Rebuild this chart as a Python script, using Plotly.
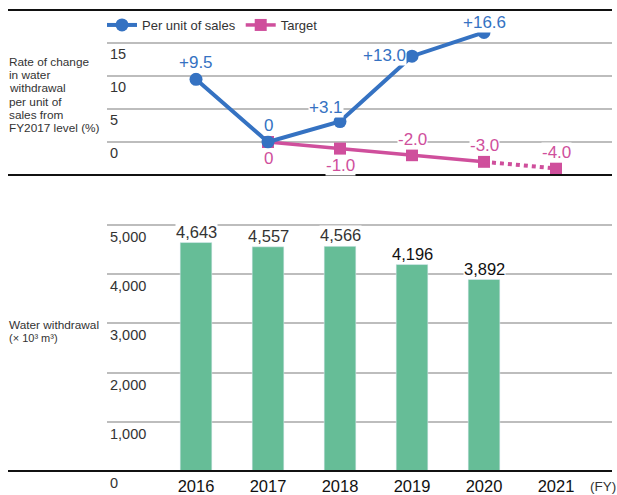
import plotly.graph_objects as go

years = [2016, 2017, 2018, 2019, 2020, 2021]
rate_years = [2016, 2017, 2018, 2019, 2020]
rate_values = [9.5, 0.0, 3.1, 13.0, 16.6]
rate_labels = ["+9.5", "0", "+3.1", "+13.0", "+16.6"]
target_years = [2017, 2018, 2019, 2020, 2021]
target_values = [0.0, -1.0, -2.0, -3.0, -4.0]
target_labels = ["0", "-1.0", "-2.0", "-3.0", "-4.0"]
bar_years = [2016, 2017, 2018, 2019, 2020]
bar_values = [4643, 4557, 4566, 4196, 3892]
bar_labels = ["4,643", "4,557", "4,566", "4,196", "3,892"]
rate_ticks = [0, 5, 10, 15]
bar_ticks = [0, 1000, 2000, 3000, 4000, 5000]
bar_tick_text = ["0", "1,000", "2,000", "3,000", "4,000", "5,000"]
rate_title = ["Rate of change", "in water", "withdrawal", "per unit of",
              "sales from", "FY2017 level (%)"]
bar_title = ["Water withdrawal", "(× 10³ m³)"]

BLUE = "#3572c2"
PINK = "#cf4f9c"
GREEN = "#66bd97"
GRID = "#bdbdbd"
TXT = "#333333"
FONT = "Liberation Sans, Arial, sans-serif"

W, H = 617, 495
def px(x):
    return x / W
def py(y):
    return 1 - y / H

fig = go.Figure()

fig.add_trace(go.Bar(x=bar_years, y=bar_values, marker_color=GREEN, width=0.44,
                     xaxis="x", yaxis="y", showlegend=False, hoverinfo="x+y"))

fig.add_trace(go.Scatter(x=target_years[:4], y=target_values[:4], mode="lines+markers",
                         name="Target", line=dict(color=PINK, width=3.5),
                         marker=dict(symbol="square", size=12, color=PINK),
                         xaxis="x2", yaxis="y2", legendrank=2))
fig.add_trace(go.Scatter(x=target_years[3:], y=target_values[3:], mode="lines",
                         line=dict(color=PINK, width=4, dash="dot"),
                         xaxis="x2", yaxis="y2", showlegend=False))
fig.add_trace(go.Scatter(x=target_years[4:], y=target_values[4:], mode="markers",
                         marker=dict(symbol="square", size=12, color=PINK),
                         xaxis="x2", yaxis="y2", showlegend=False))
fig.add_trace(go.Scatter(x=rate_years, y=rate_values, mode="lines+markers",
                         name="Per unit of sales", line=dict(color=BLUE, width=4),
                         marker=dict(symbol="circle", size=13, color=BLUE),
                         xaxis="x2", yaxis="y2", legendrank=1))

ann = []
blue_off = [(0, 17), (0, 17), (-14, 14), (-28, 1), (0, 10)]
for x, y, t, (dx, dy) in zip(rate_years, rate_values, rate_labels, blue_off):
    ann.append(dict(x=x, y=y, xref="x2", yref="y2", text=t, showarrow=False,
                    xshift=dx, yshift=dy, bgcolor="white", borderpad=0,
                    font=dict(size=17, color=BLUE, family=FONT)))
pink_off = [(0, -16), (0, -17), (0, 16), (0, 16), (0, 16)]
for x, y, t, (dx, dy) in zip(target_years, target_values, target_labels, pink_off):
    ann.append(dict(x=x, y=y, xref="x2", yref="y2", text=t, showarrow=False,
                    xshift=dx, yshift=dy, bgcolor="white", borderpad=0,
                    font=dict(size=17, color=PINK, family=FONT)))
bar_colors = [TXT, TXT, TXT, "#111111", "#111111"]
for x, y, t, c in zip(bar_years, bar_values, bar_labels, bar_colors):
    ann.append(dict(x=x, y=y, xref="x", yref="y", text=t, showarrow=False,
                    yshift=11, bgcolor="white", borderpad=0,
                    font=dict(size=16.5, color=c, family=FONT)))

for i, line in enumerate(rate_title):
    ann.append(dict(x=px(7), y=py(62 + 13.2 * i), xref="paper", yref="paper",
                    xanchor="left", yanchor="middle", showarrow=False, text=line,
                    font=dict(size=11.8, color=TXT, family=FONT)))
for i, line in enumerate(bar_title):
    ann.append(dict(x=px(7), y=py(325 + 13 * i), xref="paper", yref="paper",
                    xanchor="left", yanchor="middle", showarrow=False, text=line,
                    font=dict(size=11.8 if i == 0 else 11, color=TXT, family=FONT)))
ann.append(dict(x=px(588), y=py(486), xref="paper", yref="paper", xanchor="left", yanchor="middle",
                showarrow=False, text="(FY)",
                font=dict(size=13.5, color=TXT, family=FONT)))

shapes = []
for yy in (10, 175, 471):
    shapes.append(dict(type="line", xref="paper", yref="paper", x0=px(8), x1=px(612),
                       y0=py(yy), y1=py(yy), line=dict(color="#111111", width=2)))

xr = [2016 - 89 / 72, 2016 + 416 / 72]
xdom = [px(107), px(612)]
bar_top = 5500
bar_bot = -450
k = 246 / 5000
fig.update_layout(
    width=W, height=H, margin=dict(l=0, r=0, t=0, b=0, autoexpand=False),
    paper_bgcolor="white", plot_bgcolor="white",
    font=dict(family=FONT, color=TXT),
    showlegend=True,
    legend=dict(orientation="h", x=px(102), y=py(25), xanchor="left", yanchor="middle",
                font=dict(size=13, color=TXT, family=FONT), bgcolor="rgba(0,0,0,0)",
                itemwidth=30, tracegroupgap=0),
    annotations=ann, shapes=shapes,
    xaxis=dict(domain=xdom, range=xr, tickvals=years, ticktext=[str(y) for y in years],
               showgrid=False, zeroline=False, showline=False, ticks="",
               tickfont=dict(size=16.5, color="#111111", family=FONT), anchor="free",
               position=py(471), ticklabelstandoff=3),
    yaxis=dict(domain=[py(471 - bar_bot * k), py(471 - bar_top * k)], range=[bar_bot, bar_top],
               tickvals=bar_ticks, ticktext=bar_tick_text, showgrid=True, gridcolor=GRID,
               gridwidth=1.5, zeroline=False, showline=False, ticks="",
               ticklabelposition="inside", ticklabelshift=12,
               tickfont=dict(size=14.5, color=TXT, family=FONT), anchor="x"),
    xaxis2=dict(domain=xdom, range=xr, showticklabels=False, showgrid=False,
                zeroline=False, showline=False, anchor="y2", matches="x"),
    yaxis2=dict(domain=[py(175), py(10)], range=[-5, 20], tickvals=rate_ticks,
                showgrid=True, gridcolor=GRID, gridwidth=1.5, zeroline=False, showline=False,
                ticks="", ticklabelposition="inside", ticklabelshift=11,
                tickfont=dict(size=14.5, color=TXT, family=FONT), anchor="x2"),
)
fig.update_traces(cliponaxis=False, selector=dict(type="scatter"))
fig.update_traces(cliponaxis=False, selector=dict(type="bar"))

fig.write_html("out.html", config={"displayModeBar": False},
               post_script="document.body.style.margin='0';document.body.style.overflow='hidden';")
